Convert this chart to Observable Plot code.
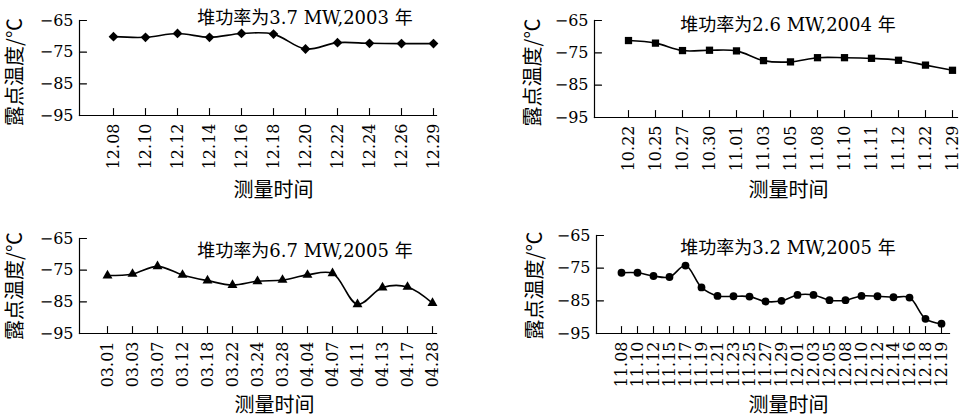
<!DOCTYPE html>
<html><head><meta charset="utf-8">
<script src="https://cdn.jsdelivr.net/npm/d3@7"></script>
<script src="https://cdn.jsdelivr.net/npm/@observablehq/plot@0.6"></script>
<style>
body{margin:0;background:#fff;}
#wrap{position:relative;width:971px;height:418px;overflow:hidden;background:#fff;}
#wrap svg{position:absolute;background:transparent;}
</style></head><body><div id="wrap"></div>
<script>
// ---- data ----
const yTicks = [-65, -75, -85, -95];
const xLabel = "测量时间";
const yLabel = "露点温度/℃";

const dates1 = ["12.08","12.10","12.12","12.14","12.16","12.18","12.20","12.22","12.24","12.26","12.29"];
const values1 = [-70.1,-70.3,-69.1,-70.3,-69.1,-69.3,-74.0,-72.0,-72.2,-72.3,-72.3];
const title1 = "堆功率为3.7 MW,2003 年";

const dates2 = ["10.22","10.25","10.27","10.30","11.01","11.03","11.05","11.08","11.10","11.11","11.12","11.22","11.29"];
const values2 = [-71.2,-72.0,-74.3,-74.2,-74.4,-77.4,-77.8,-76.5,-76.5,-76.7,-77.3,-78.8,-80.4];
const title2 = "堆功率为2.6 MW,2004 年";

const dates3 = ["03.01","03.03","03.07","03.12","03.18","03.22","03.24","03.28","04.04","04.07","04.11","04.13","04.17","04.28"];
const values3 = [-76.7,-76.2,-73.8,-76.5,-78.3,-79.7,-78.5,-78.1,-76.5,-76.0,-85.8,-80.5,-80.3,-85.4];
const title3 = "堆功率为6.7 MW,2005 年";

const dates4 = ["11.08","11.10","11.12","11.15","11.17","11.19","11.21","11.23","11.25","11.27","11.29","12.01","12.03","12.05","12.08","12.10","12.12","12.14","12.16","12.18","12.19"];
const values4 = [-76.4,-76.4,-77.4,-77.7,-74.2,-80.9,-83.5,-83.6,-83.7,-85.2,-85.0,-83.2,-83.2,-84.8,-84.8,-83.5,-83.6,-83.9,-84.0,-90.5,-92.0];
const title4 = "堆功率为3.2 MW,2005 年";

// ---- layout ----
const panels = [
  {dates: dates1, values: values1, title: title1, symbol: "diamond2", r: 4.4,
   left: 0, top: 0, width: 485, mL: 79, mR: 49, mT: 20, mB: 94, inset: 31,
   tdx: 47, tdy: -2, xdx: 15.5, xdy: 75, ydx: -64, ydy: 4},
  {dates: dates2, values: values2, title: title2, symbol: "square", r: 4.1,
   left: 485, top: 0, width: 486, mL: 109, mR: 14, mT: 20, mB: 92, inset: 28,
   tdx: 12, tdy: 5, xdx: 12.5, xdy: 73, ydx: -61, ydy: 3.5},
  {dates: dates3, values: values3, title: title3, symbol: "triangle", r: 3.7,
   left: 0, top: 209, width: 485, mL: 79, mR: 49, mT: 29, mB: 85, inset: 24,
   tdx: 47, tdy: 13, xdx: 16.5, xdy: 72, ydx: -64, ydy: 0},
  {dates: dates4, values: values4, title: title4, symbol: "circle", r: 3.9,
   left: 485, top: 209, width: 486, mL: 111, mR: 22, mT: 26, mB: 85, inset: 16,
   tdx: 15, tdy: 13, xdx: 15.5, xdy: 72, ydx: -61, ydy: 1}
];

const serif = "'DejaVu Serif','Noto Sans CJK SC',serif";
const cjk = "'Noto Sans CJK SC','DejaVu Serif',sans-serif";
const tickShape = {draw(ctx, l) { ctx.moveTo(0, 0); ctx.lineTo(0, -l); }};

const wrap = document.getElementById("wrap");
for (const p of panels) {
  const data = p.dates.map((d, i) => ({date: d, value: p.values[i]}));
  const svg = Plot.plot({
    width: p.width, height: 209,
    marginLeft: p.mL, marginRight: p.mR, marginTop: p.mT, marginBottom: p.mB,
    style: {fontFamily: serif, color: "#000", background: "transparent", overflow: "visible"},
    x: {type: "point", domain: p.dates, padding: 0, insetLeft: p.inset},
    y: {domain: [-95, -65]},
    marks: [
      Plot.frame({anchor: "left", stroke: "#000", strokeWidth: 1.2}),
      Plot.frame({anchor: "bottom", stroke: "#000", strokeWidth: 1.2}),
      Plot.vector(yTicks, {y: d => d, frameAnchor: "left", rotate: 90, length: 7, anchor: "start", shape: tickShape, stroke: "#000", strokeWidth: 1.1}),
      Plot.vector(p.dates, {x: d => d, frameAnchor: "bottom", length: 7, anchor: "start", shape: tickShape, stroke: "#000", strokeWidth: 1.1}),
      Plot.axisY({ticks: yTicks, tickSize: 0, tickPadding: 6, fontSize: 16, label: null, fill: "#000"}),
      Plot.axisX({tickSize: 0, tickPadding: 8, tickRotate: -90, fontSize: 16, label: null, fill: "#000"}),
      Plot.lineY(data, {x: "date", y: "value", curve: "catmull-rom", stroke: "#000", strokeWidth: 1.6}),
      Plot.dot(data, {x: "date", y: "value", symbol: p.symbol, r: p.r, fill: "#000", stroke: "none"}),
      Plot.text([p.title], {frameAnchor: "top", dx: p.tdx, dy: p.tdy, fontSize: 18, textAnchor: "middle", lineAnchor: "middle", fill: "#000"}),
      Plot.text([xLabel], {frameAnchor: "bottom", dx: p.xdx, dy: p.xdy, fontSize: 20, fontFamily: cjk, textAnchor: "middle", lineAnchor: "middle", fill: "#000"}),
      Plot.text([yLabel], {frameAnchor: "left", dx: p.ydx, dy: p.ydy, rotate: -90, fontSize: 20, fontFamily: cjk, textAnchor: "middle", lineAnchor: "middle", fill: "#000"})
    ]
  });
  svg.style.left = p.left + "px";
  svg.style.top = p.top + "px";
  wrap.appendChild(svg);
}
</script></body></html>
